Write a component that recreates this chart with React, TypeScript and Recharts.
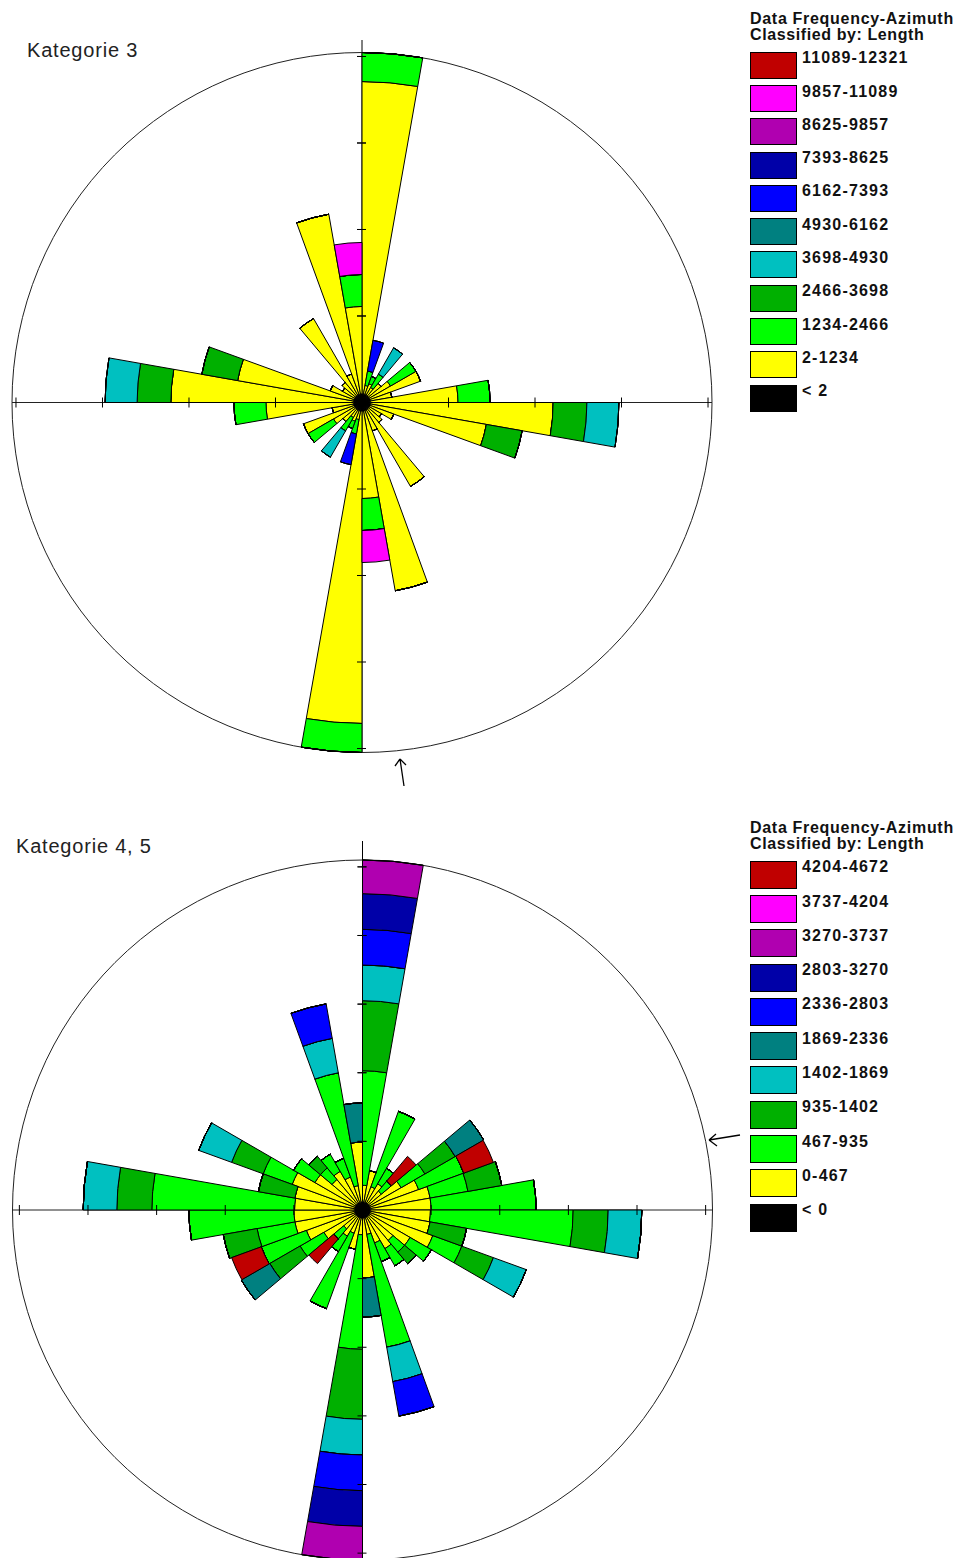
import React from 'react';
import { RadialBarChart, RadialBar, PolarAngleAxis, PolarRadiusAxis, PolarGrid } from 'recharts';

// Azimuth classes (10° bins, clockwise from north)
const azimuthBins = [
  '0-10', '10-20', '20-30', '30-40', '40-50', '50-60', '60-70', '70-80', '80-90',
  '90-100', '100-110', '110-120', '120-130', '130-140', '140-150', '150-160', '160-170', '170-180',
  '180-190', '190-200', '200-210', '210-220', '220-230', '230-240', '240-250', '250-260', '260-270',
  '270-280', '280-290', '290-300', '300-310', '310-320', '320-330', '330-340', '340-350', '350-360',
];

const classColors = ['#C00000', '#FF00FF', '#B000B0', '#0000A8', '#0000FF', '#008080', '#00C0C0', '#00B000', '#00FF00', '#FFFF00', '#000000'];

// ---------- Kategorie 3 ----------
const topLegendLabels = ['11089-12321', '9857-11089', '8625-9857', '7393-8625', '6162-7393', '4930-6162', '3698-4930', '2466-3698', '1234-2466', '2-1234', '< 2'];
const topTicks = [10, 20, 30, 40];
const topMax = 40.46;

const topBlack = [1, 1, 1, 1, 1, 1, 1, 1, 1, 1, 1, 1, 1, 1, 1, 1, 1, 1, 1, 1, 1, 1, 1, 1, 1, 1, 1, 1, 1, 1, 1, 1, 1, 1, 1, 1];
const topYellow = [36.1, 1.0, 1.3, 1.0, 1.9, 2.8, 6.2, 2.5, 10.1, 21.1, 13.6, 2.9, 1.6, 2.0, 10.2, 2.5, 21.1, 10.1,
  36.1, 1.0, 1.3, 1.0, 1.9, 2.8, 6.2, 2.5, 10.1, 21.1, 13.6, 2.9, 1.6, 2.0, 10.2, 2.5, 21.1, 10.1];
const topGreen = [3.5, 1.7, 0.9, 1.8, 0, 3.4, 0, 0, 3.7, 0, 0, 0, 0, 0, 0, 0, 0, 3.7,
  3.5, 1.7, 0.9, 1.8, 0, 3.4, 0, 0, 3.7, 0, 0, 0, 0, 0, 0, 0, 0, 3.7];
const topDarkGreen = [0, 0, 0, 0, 0, 0, 0, 0, 0, 3.9, 4.2, 0, 0, 0, 0, 0, 0, 0,
  0, 0, 0, 0, 0, 0, 0, 0, 0, 3.9, 4.2, 0, 0, 0, 0, 0, 0, 0];
const topCyan = [0, 0, 0, 3.5, 0, 0, 0, 0, 0, 3.7, 0, 0, 0, 0, 0, 0, 0, 0,
  0, 0, 0, 3.5, 0, 0, 0, 0, 0, 3.7, 0, 0, 0, 0, 0, 0, 0, 0];
const topBlue = [0, 3.6, 0, 0, 0, 0, 0, 0, 0, 0, 0, 0, 0, 0, 0, 0, 0, 0,
  0, 3.6, 0, 0, 0, 0, 0, 0, 0, 0, 0, 0, 0, 0, 0, 0, 0, 0];
const topMagenta = [0, 0, 0, 0, 0, 0, 0, 0, 0, 0, 0, 0, 0, 0, 0, 0, 0, 3.7,
  0, 0, 0, 0, 0, 0, 0, 0, 0, 0, 0, 0, 0, 0, 0, 0, 0, 3.7];

// ---------- Kategorie 4, 5 ----------
const botLegendLabels = ['4204-4672', '3737-4204', '3270-3737', '2803-3270', '2336-2803', '1869-2336', '1402-1869', '935-1402', '467-935', '0-467', '< 0'];
const botTicks = [10, 20, 30, 40, 50];
const botMax = 50.87;

const botBlack = [1.2, 1.2, 1.2, 1.2, 1.2, 1.2, 1.2, 1.2, 1.2, 1.2, 1.2, 1.2, 1.2, 1.2, 1.2, 1.2, 1.2, 1.2,
  1.2, 1.2, 1.2, 1.2, 1.2, 1.2, 1.2, 1.2, 1.2, 1.2, 1.2, 1.2, 1.2, 1.2, 1.2, 1.2, 1.2, 1.2];
const botYellow = [2.4, 4.6, 2.4, 3.2, 2.4, 5.3, 7.5, 8.8, 8.8, 8.7, 8.8, 9.7, 6.8, 4.6, 5.3, 3.9, 2.4, 8.7,
  2.4, 4.6, 2.4, 3.2, 2.4, 5.3, 7.5, 8.8, 8.8, 8.7, 8.8, 9.7, 6.8, 4.6, 5.3, 3.9, 2.4, 8.7];
const botGreen = [16.7, 0, 11.7, 2.6, 1.9, 4.0, 7.0, 5.6, 15.3, 20.8, 0, 4.5, 3.6, 2.2, 2.9, 2.9, 16.7, 0,
  16.7, 0, 11.7, 2.6, 1.9, 4.0, 7.0, 5.6, 15.3, 20.8, 0, 4.5, 3.6, 2.2, 2.9, 2.9, 16.7, 0];
const botDarkGreen = [10.2, 0, 0, 0, 0, 5.1, 0, 5.0, 0, 5.1, 5.4, 4.9, 0, 2.2, 0, 0, 0, 0,
  10.2, 0, 0, 0, 0, 5.1, 0, 5.0, 0, 5.1, 5.4, 4.9, 0, 2.2, 0, 0, 0, 0];
const botCyan = [5.2, 0, 0, 0, 0, 0, 0, 0, 0, 4.9, 0, 5.1, 0, 0, 0, 0, 5.1, 0,
  5.2, 0, 0, 0, 0, 0, 0, 0, 0, 4.9, 0, 5.1, 0, 0, 0, 0, 5.1, 0];
const botTeal = [0, 0, 0, 0, 0, 4.8, 0, 0, 0, 0, 0, 0, 0, 0, 0, 0, 0, 5.7,
  0, 0, 0, 0, 0, 4.8, 0, 0, 0, 0, 0, 0, 0, 0, 0, 0, 0, 5.7];
const botBlue = [5.2, 0, 0, 0, 0, 0, 0, 0, 0, 0, 0, 0, 0, 0, 0, 0, 5.1, 0,
  5.2, 0, 0, 0, 0, 0, 0, 0, 0, 0, 0, 0, 0, 0, 0, 0, 5.1, 0];
const botNavy = [5.2, 0, 0, 0, 0, 0, 0, 0, 0, 0, 0, 0, 0, 0, 0, 0, 0, 0,
  5.2, 0, 0, 0, 0, 0, 0, 0, 0, 0, 0, 0, 0, 0, 0, 0, 0, 0];
const botPurple = [5.0, 0, 0, 0, 0, 0, 0, 0, 0, 0, 0, 0, 0, 0, 0, 0, 0, 0,
  5.0, 0, 0, 0, 0, 0, 0, 0, 0, 0, 0, 0, 0, 0, 0, 0, 0, 0];
const botRed = [0, 0, 0, 0, 4.7, 0, 4.6, 0, 0, 0, 0, 0, 0, 0, 0, 0, 0, 0,
  0, 0, 0, 0, 4.7, 0, 4.6, 0, 0, 0, 0, 0, 0, 0, 0, 0, 0, 0];

type Series = { key: string; color: string; values: number[] };

const topSeries: Series[] = [
  { key: 'lt2', color: '#000000', values: topBlack },
  { key: 'c1', color: '#FFFF00', values: topYellow },
  { key: 'c2', color: '#00FF00', values: topGreen },
  { key: 'c3', color: '#00B000', values: topDarkGreen },
  { key: 'c4', color: '#00C0C0', values: topCyan },
  { key: 'c6', color: '#0000FF', values: topBlue },
  { key: 'c9', color: '#FF00FF', values: topMagenta },
];

const botSeries: Series[] = [
  { key: 'lt0', color: '#000000', values: botBlack },
  { key: 'c1', color: '#FFFF00', values: botYellow },
  { key: 'c2', color: '#00FF00', values: botGreen },
  { key: 'c3', color: '#00B000', values: botDarkGreen },
  { key: 'c4', color: '#00C0C0', values: botCyan },
  { key: 'c5', color: '#008080', values: botTeal },
  { key: 'c6', color: '#0000FF', values: botBlue },
  { key: 'c7', color: '#0000A8', values: botNavy },
  { key: 'c8', color: '#B000B0', values: botPurple },
  { key: 'c10', color: '#C00000', values: botRed },
];

const vTick = (props: any) => {
  const { x, y } = props;
  return <line x1={x - 5} y1={y} x2={x + 4} y2={y} stroke="#000" strokeWidth={1} />;
};
const hTick = (props: any) => {
  const { x, y } = props;
  return <line x1={x} y1={y - 5} x2={x} y2={y + 5} stroke="#000" strokeWidth={1} />;
};

function Rose({ series, maxValue, ticks, cx, cy, width, height }: {
  series: Series[]; maxValue: number; ticks: number[]; cx: number; cy: number; width: number; height: number;
}) {
  const data = azimuthBins.map((bin, i) => {
    const row: any = { bin };
    series.forEach((s) => { row[s.key] = s.values[i]; });
    return row;
  });
  const axisCommon = {
    type: 'number' as const,
    domain: [0, maxValue],
    allowDataOverflow: true,
    ticks,
    axisLine: false,
  };
  return (
    <RadialBarChart
      width={width}
      height={height}
      data={data}
      cx={cx}
      cy={cy}
      innerRadius={0}
      outerRadius={350}
      startAngle={80}
      endAngle={-280}
      layout="centric"
      barCategoryGap={0}
      barGap={0}
      margin={{ top: 0, right: 0, bottom: 0, left: 0 }}
    >
      <PolarAngleAxis type="category" dataKey="bin" tick={false} axisLine={false} />
      <PolarRadiusAxis radiusAxisId={0} angle={90} {...axisCommon} tick={vTick} />
      {series.map((s) => (
        <RadialBar
          key={s.key}
          dataKey={s.key}
          stackId="a"
          fill={s.color}
          stroke="#000"
          strokeWidth={1}
          isAnimationActive={false}
        />
      ))}
      <PolarGrid gridType="circle" polarRadius={[350]} polarAngles={[0, 90, 180, 270]} stroke="#222" strokeWidth={1} />
      <PolarRadiusAxis radiusAxisId={1} angle={0} {...axisCommon} tick={hTick} />
      <PolarRadiusAxis radiusAxisId={2} angle={180} {...axisCommon} tick={hTick} />
      <PolarRadiusAxis radiusAxisId={3} angle={270} {...axisCommon} tick={vTick} />
      <PolarRadiusAxis radiusAxisId={4} angle={90} {...axisCommon} tick={vTick} />
    </RadialBarChart>
  );
}

function LegendBlock({ top, pitch, boxH, labels }: { top: number; pitch: number; boxH: number; labels: string[] }) {
  const font = '"Liberation Sans", Arial, sans-serif';
  return (
    <div style={{ position: 'absolute', left: 750, top, width: 212 }}>
      <div style={{ position: 'absolute', left: 0, top: 0, font: `bold 16px ${font}`, lineHeight: '16px', letterSpacing: '0.7px', whiteSpace: 'nowrap', color: '#111' }}>
        Data Frequency-Azimuth
      </div>
      <div style={{ position: 'absolute', left: 0, top: 15.7, font: `bold 16px ${font}`, lineHeight: '16px', letterSpacing: '0.6px', whiteSpace: 'nowrap', color: '#111' }}>
        Classified by: Length
      </div>
      {labels.map((lab, i) => (
        <React.Fragment key={lab}>
          <div style={{ position: 'absolute', left: 0, top: 40.4 + i * pitch, width: 45, height: boxH - 2, background: classColors[i], border: '1px solid #000' }} />
          <div style={{ position: 'absolute', left: 52, top: 39 + i * pitch, font: `bold 16px ${font}`, lineHeight: '16px', letterSpacing: '1.2px', whiteSpace: 'nowrap', color: '#111' }}>
            {lab}
          </div>
        </React.Fragment>
      ))}
    </div>
  );
}

export default function App() {
  const titleFont = '20px "Liberation Sans", Arial, sans-serif';
  return (
    <div style={{ position: 'absolute', left: 0, top: 0, width: 962, height: 1558, background: '#fff', overflow: 'hidden' }}>
      <div style={{ position: 'absolute', left: 0, top: 0 }}>
        <Rose series={topSeries} maxValue={topMax} ticks={topTicks} cx={362} cy={402.5} width={730} height={780} />
      </div>
      <div style={{ position: 'absolute', left: 0, top: 800 }}>
        <Rose series={botSeries} maxValue={botMax} ticks={botTicks} cx={362.5} cy={410} width={730} height={758} />
      </div>
      <div style={{ position: 'absolute', left: 27, top: 40, font: titleFont, lineHeight: '20px', letterSpacing: '0.8px', color: '#222', whiteSpace: 'nowrap' }}>Kategorie 3</div>
      <div style={{ position: 'absolute', left: 16, top: 835.5, font: titleFont, lineHeight: '20px', letterSpacing: '0.8px', color: '#222', whiteSpace: 'nowrap' }}>Kategorie 4, 5</div>
      <LegendBlock top={11.3} pitch={33.3} boxH={27} labels={topLegendLabels} />
      <LegendBlock top={820.3} pitch={34.3} boxH={28} labels={botLegendLabels} />
      <svg width={962} height={1558} style={{ position: 'absolute', left: 0, top: 0, pointerEvents: 'none' }}>
        <line x1={362} y1={52} x2={362} y2={40} stroke="#000" strokeWidth={1} />
        <line x1={362.5} y1={860} x2={362.5} y2={841} stroke="#000" strokeWidth={1} />
        <path d="M404,786 L400,759 M400,759 L395,766 M400,759 L406,765" stroke="#000" strokeWidth={1.3} fill="none" />
        <path d="M740,1135 L709,1140 M709,1140 L716,1134 M709,1140 L717,1146" stroke="#000" strokeWidth={1.3} fill="none" />
      </svg>
    </div>
  );
}
